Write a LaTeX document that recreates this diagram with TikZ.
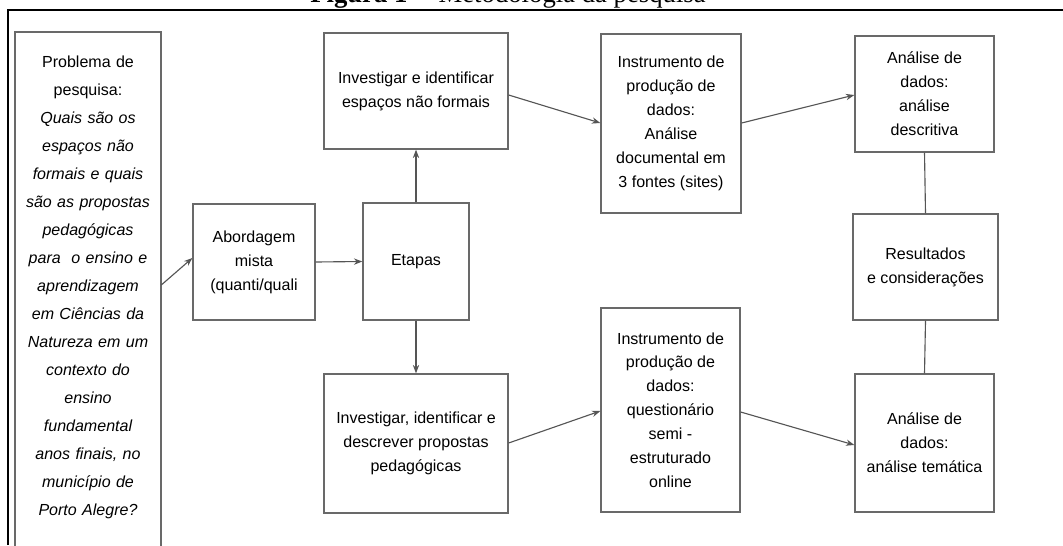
\documentclass[tikz,border=0pt]{standalone}
\usepackage{fontspec}
\setmainfont{Liberation Sans}
\newfontfamily\legfont{Liberation Serif}
\usetikzlibrary{arrows.meta}
\definecolor{linha}{RGB}{85,85,85}
\definecolor{borda}{RGB}{105,105,105}

\tikzset{
  caixa/.style={draw=borda, line width=0.9pt, align=center, inner sep=0pt,
    font=\fontsize{11.4}{17}\selectfont},
  seta/.style={draw=linha, line width=0.8pt, -{Stealth[length=6pt, width=4.5pt]}},
  liga/.style={draw=linha, line width=0.8pt},
}

\begin{document}
\begin{tikzpicture}[x=0.025cm, y=-0.025cm]
    \clip (0,0) rectangle (1063,545);

    % legenda cortada e moldura
    \node[anchor=base, font=\legfont\fontsize{19}{22}\selectfont] (legenda) at (508,3)
        {\textbf{Figura 1} -- Metodologia da pesquisa};
    \draw[line width=2pt] (8,545) -- (8,10) -- (1063,10);

    % problema de pesquisa
    \node[align=center, text width=3.65cm, inner sep=0pt,
        font=\fontsize{11.4}{19.9}\selectfont] (prob) at (88,287)
        {Problema de\\ pesquisa:\\ \itshape Quais são os\\ espaços não\\ formais e quais\\
         são as propostas\\ pedagógicas\\ para~ o ensino e\\ aprendizagem\\ em Ciências da\\
         Natureza em um\\ contexto do\\ ensino\\ fundamental\\ anos finais, no\\
         município de\\ Porto Alegre?};
    \draw[draw=borda, line width=0.9pt] (15,600) -- (15,32) -- (161,32) -- (161,600);

    \node[caixa, minimum width=3.05cm, minimum height=2.9cm] (abord) at (254,262)
        {Abordagem\\ mista\\ (quanti/quali};
    \node[caixa, minimum width=2.65cm, minimum height=2.925cm] (etapas) at (416,261.5)
        {Etapas};

    \node[caixa, minimum width=4.6cm, minimum height=2.9cm] (invA) at (416,91)
        {Investigar e identificar\\ espaços não formais};
    \node[caixa, minimum width=4.6cm, minimum height=3.475cm] (invB) at (416,443.5)
        {Investigar, identificar e\\ descrever propostas\\ pedagógicas};

    \node[caixa, minimum width=3.5cm, minimum height=4.475cm] (instA) at (671,123.5)
        {Instrumento de\\ produção de\\ dados:\\ Análise\\ documental em\\ 3 fontes (sites)};
    \node[caixa, minimum width=3.475cm, minimum height=5.1cm] (instB) at (670.5,410)
        {Instrumento de\\ produção de\\ dados:\\ questionário\\ semi -\\ estruturado\\ online};

    \node[caixa, minimum width=3.475cm, minimum height=2.9cm] (anaA) at (924.5,94)
        {Análise de\\ dados:\\ análise\\ descritiva};
    \node[caixa, minimum width=3.625cm, minimum height=2.65cm] (result) at (925.5,267)
        {Resultados\\ e considerações};
    \node[caixa, minimum width=3.475cm, minimum height=3.45cm] (anaB) at (924.5,443)
        {Análise de\\ dados:\\ análise temática};

    % ligacoes
    \draw[seta] (prob.east |- 0,285) -- (abord.west |- 0,258);
    \draw[seta] (abord.east) -- (etapas.west);
    \draw[seta] (etapas.north) -- (invA.south);
    \draw[seta] (etapas.south) -- (invB.north);
    \draw[seta] (invA.east |- 0,95) -- (instA.west |- 0,123);
    \draw[seta] (invB.east |- 0,443) -- (instB.west |- 0,411);
    \draw[seta] (instA.east |- 0,123) -- (anaA.west |- 0,95);
    \draw[seta] (instB.east |- 0,412) -- (anaB.west |- 0,445);
    \draw[liga] (anaA.south) -- (result.north);
    \draw[liga] (result.south) -- (anaB.north);
\end{tikzpicture}
\end{document}
